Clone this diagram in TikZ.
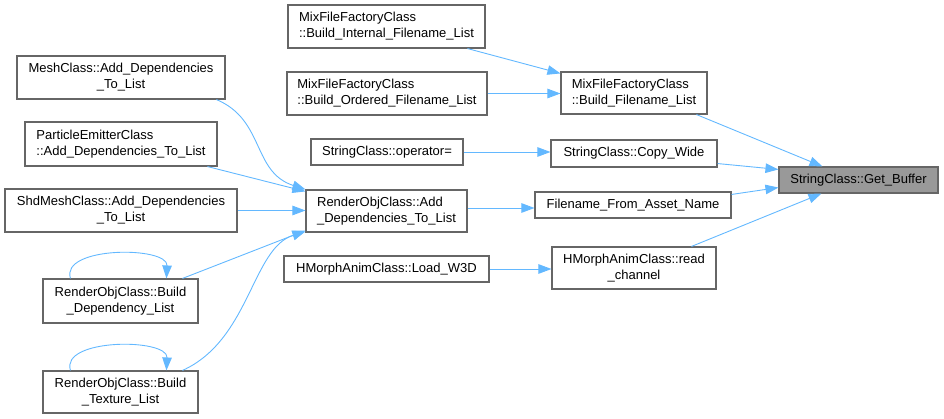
\documentclass[tikz,border=0pt]{standalone}
\usepackage{fontspec}
\setmainfont{Liberation Sans}
\usetikzlibrary{arrows.meta,calc}
\definecolor{edgeblue}{HTML}{63B8FF}
\definecolor{boxgray}{HTML}{666666}
\definecolor{hlgray}{HTML}{999999}
\tikzset{
  fn/.style={draw=boxgray, line width=1.1pt, fill=white, inner sep=0pt, font=\fontsize{13}{16}\selectfont, text=black},
  cl/.style={align=left},
  cc/.style={align=center},
  hl/.style={fn, fill=hlgray},
  call/.style={draw=edgeblue, line width=0.9pt, -{Triangle[length=13pt,width=9.5pt]}}
}
\begin{document}
\begin{tikzpicture}[x=1pt,y=-1pt]
\useasboundingbox (0,0) rectangle (944,419);
% nodes
\node[hl, cc, minimum width=159, minimum height=26] (GB) at (858.5,180) {StringClass::Get\_Buffer};
\node[fn, cl, minimum width=146, minimum height=42] (BFL) at (634,93) {MixFileFactoryClass\\::Build\_Filename\_List};
\node[fn, cc, minimum width=166, minimum height=27] (CW) at (634,153.5) {StringClass::Copy\_Wide};
\node[fn, cc, minimum width=196, minimum height=26] (FFAN) at (633,205) {Filename\_From\_Asset\_Name};
\node[fn, cc, minimum width=164, minimum height=42] (RC) at (634,268) {HMorphAnimClass::read\\\_channel};
\node[fn, cl, minimum width=197, minimum height=43] (BIFL) at (386.5,26.5) {MixFileFactoryClass\\::Build\_Internal\_Filename\_List};
\node[fn, cl, minimum width=200, minimum height=43] (BOFL) at (387,93.5) {MixFileFactoryClass\\::Build\_Ordered\_Filename\_List};
\node[fn, cc, minimum width=152, minimum height=26] (OP) at (387,152) {StringClass::operator=};
\node[fn, cl, minimum width=161, minimum height=42] (RADL) at (386.5,211) {RenderObjClass::Add\\\_Dependencies\_To\_List};
\node[fn, cc, minimum width=205, minimum height=26] (LW) at (386.5,269) {HMorphAnimClass::Load\_W3D};
\node[fn, cc, minimum width=208, minimum height=43] (MESH) at (121,77.5) {MeshClass::Add\_Dependencies\\\_To\_List};
\node[fn, cl, minimum width=192, minimum height=44] (PE) at (121,144) {ParticleEmitterClass\\::Add\_Dependencies\_To\_List};
\node[fn, cc, minimum width=232, minimum height=43] (SM) at (121,210.5) {ShdMeshClass::Add\_Dependencies\\\_To\_List};
\node[fn, cc, minimum width=155, minimum height=44] (BDL) at (120.5,301) {RenderObjClass::Build\\\_Dependency\_List};
\node[fn, cc, minimum width=155, minimum height=42] (BTL) at (120.5,392) {RenderObjClass::Build\\\_Texture\_List};
% edges
\draw[call] ($(BIFL.south west)+(180,0)$) -- ($(BFL.north west)+(0,2)$);
\draw[call] (BOFL.east) -- (BOFL.east -| BFL.west);
\draw[call] ($(BFL.south west)+(136,0)$) -- ($(GB.north west)+(44,0)$);
\draw[call] ($(CW.south east)+(0,-4)$) -- ($(GB.north west)+(0,3)$);
\draw[call] ($(FFAN.north east)+(0,3)$) -- ($(GB.south west)+(0,-6)$);
\draw[call] ($(RC.north west)+(140,0)$) -- ($(GB.south west)+(43,0)$);
\draw[call] (OP.east) -- (OP.east -| CW.west);
\draw[call] ($(RADL.east)+(0,-3)$) coordinate (r1) -- (r1 -| FFAN.west);
\draw[call] (LW.east) -- (LW.east -| RC.west);
\draw[call] ($(MESH.south west)+(200,0)$) .. controls (265,120) and (252,172) .. ($(RADL.north west)+(0,0)$);
\draw[call] ($(PE.south west)+(183,0)$) -- ($(RADL.north west)+(0,2)$);
\draw[call] (SM.east) -- (SM.east -| RADL.west);
\draw[call] ($(BDL.north west)+(140,0)$) -- ($(RADL.south west)+(0,-2)$);
\draw[call] ($(BTL.north west)+(140,0)$) .. controls (250,340) and (252,248) .. ($(RADL.south west)+(0,-1)$);
\draw[call] ($(BDL.north west)+(28,0)$) .. controls (60,246) and (168,246) .. ($(BDL.north west)+(124,0)$);
\draw[call] ($(BTL.north west)+(28,0)$) .. controls (60,338) and (168,338) .. ($(BTL.north west)+(124,0)$);
\end{tikzpicture}
\end{document}
